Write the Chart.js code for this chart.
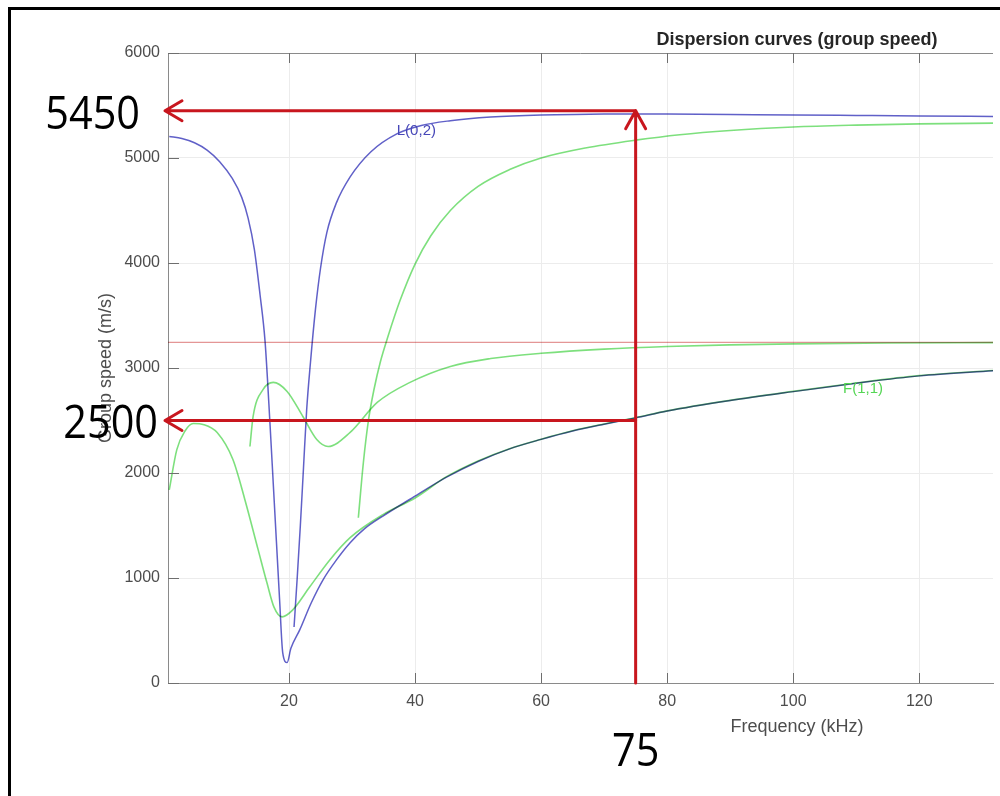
<!DOCTYPE html>
<html>
<head>
<meta charset="utf-8">
<script src="https://cdn.jsdelivr.net/npm/chart.js@4.4.1/dist/chart.umd.min.js"></script>
<style>
  html, body { margin: 0; padding: 0; background: #fff; }
  canvas { display: block; }
</style>
</head>
<body>
<canvas id="dispChart" width="1000" height="796"></canvas>
<script>
// axis ticks
const xTicks = [20, 40, 60, 80, 100, 120];
const yTicks = [0, 1000, 2000, 3000, 4000, 5000, 6000];

// L(0,1) branch: left descent and lower branch (blue)
const blueAFreq  = [1, 3, 5, 7, 9, 11, 12.5, 13.5, 14.5, 15.4, 16.2, 17, 17.5, 18, 18.5, 19, 19.7, 20.3, 21.7, 23.5, 25.4, 27.5, 29.7, 32, 34.9, 39.2, 45, 50, 55, 60, 65, 70, 75, 80, 90, 100, 110, 120, 132];
const blueASpeed = [5205, 5185, 5145, 5075, 4965, 4805, 4625, 4430, 4130, 3700, 3254, 2450, 1900, 1350, 800, 290, 195, 330, 506, 760, 983, 1170, 1336, 1470, 1590, 1750, 1960, 2110, 2230, 2320, 2400, 2465, 2525, 2590, 2690, 2775, 2855, 2925, 2975];

// L(0,2) (blue)
const blueBFreq  = [20.8, 21.3, 21.8, 22.3, 22.8, 23.4, 24.2, 25, 26, 27.5, 29.7, 33, 37.1, 41, 45.6, 52, 60, 70, 75, 80, 90, 100, 110, 120, 132];
const blueBSpeed = [534, 1000, 1500, 2050, 2600, 3050, 3560, 3950, 4290, 4570, 4820, 5060, 5230, 5310, 5355, 5390, 5410, 5418, 5420, 5418, 5414, 5410, 5405, 5400, 5395];

// F(1,1) (green)
const greenAFreq  = [1, 2.2, 3.5, 4.8, 6.5, 8.6, 11.1, 13, 15.1, 16.5, 17.6, 18.9, 20.6, 23.3, 26.5, 29.7, 34.9, 40, 45, 50, 55, 60, 65, 70, 75, 80, 90, 100, 110, 120, 132];
const greenASpeed = [1840, 2223, 2400, 2471, 2460, 2385, 2128, 1746, 1270, 954, 725, 630, 697, 916, 1174, 1384, 1603, 1762, 1965, 2115, 2232, 2322, 2402, 2467, 2527, 2592, 2692, 2777, 2857, 2927, 2977];

// F(1,2) (green)
const greenBFreq  = [13.8, 14.3, 15.9, 17.5, 19.7, 22.2, 24.4, 26.2, 29.7, 34, 39.2, 45.6, 52, 60, 70, 80, 90, 100, 115, 132];
const greenBSpeed = [2252, 2538, 2796, 2863, 2777, 2538, 2319, 2252, 2386, 2672, 2863, 3015, 3090, 3140, 3180, 3205, 3220, 3230, 3238, 3242];

// F(1,3) (green)
const greenCFreq  = [31, 31.8, 32.6, 33.5, 34.5, 35.7, 37.6, 40, 42.5, 45.6, 50, 55, 60, 67, 75, 82, 90, 100, 110, 120, 132];
const greenCSpeed = [1574, 2100, 2500, 2800, 3060, 3300, 3640, 3990, 4260, 4500, 4730, 4890, 5000, 5095, 5170, 5222, 5262, 5295, 5313, 5325, 5332];

// T(0,1) (red)
const redFreq  = [0.8, 132];
const redSpeed = [3244, 3244];

// hand-drawn marks
const markFreq = 75;
const markSpeeds = [5450, 2500];

const curveLabels = [
    { text: 'L(0,2)', x: 37.1, y: 5257, color: '#4747b8' },
    { text: 'F(1,1)', x: 107.9, y: 2805, color: '#55d655' }
];

function toPoints(xs, ys) {
    return xs.map((x, i) => ({ x: x, y: ys[i] }));
}

function lineSet(xs, ys, color, width) {
    return {
        data: toPoints(xs, ys),
        borderColor: color,
        borderWidth: width,
        pointRadius: 0,
        showLine: true,
        fill: false,
        cubicInterpolationMode: 'monotone'
    };
}

const BLUE = 'rgb(96, 96, 200)';
const GREEN = 'rgb(125, 224, 125)';
const RED = 'rgb(228, 150, 150)';
const MARK = '#c8161e';
const TXT = '#4d4d4d';
const SANS = '"Liberation Sans", Arial, Helvetica, sans-serif';

const overlayPlugin = {
    id: 'overlay',
    beforeDraw(chart) {
        const ctx = chart.ctx;
        ctx.save();
        ctx.fillStyle = '#fff';
        ctx.fillRect(0, 0, chart.width, chart.height);
        ctx.fillStyle = '#000';
        ctx.fillRect(8, 7, chart.width - 8, 3);
        ctx.fillRect(8, 7, 3, chart.height - 7);
        ctx.restore();
    },
    beforeDatasetsDraw(chart) {
        chart.ctx.save();
        chart.ctx.globalCompositeOperation = 'multiply';
    },
    afterDatasetsDraw(chart) {
        chart.ctx.restore();
    },
    afterDraw(chart) {
        const ctx = chart.ctx;
        const a = chart.chartArea;
        const xs = chart.scales.x;
        const ys = chart.scales.y;
        ctx.save();

        // top box line
        ctx.strokeStyle = '#8a8a8a';
        ctx.lineWidth = 1;
        ctx.beginPath();
        ctx.moveTo(a.left, a.top + 0.5);
        ctx.lineTo(a.right, a.top + 0.5);
        ctx.stroke();

        // inner tick marks
        ctx.strokeStyle = '#6e6e6e';
        ctx.beginPath();
        xTicks.forEach(v => {
            const px = Math.round(xs.getPixelForValue(v)) + 0.5;
            ctx.moveTo(px, a.bottom);
            ctx.lineTo(px, a.bottom - 10);
            ctx.moveTo(px, a.top);
            ctx.lineTo(px, a.top + 10);
        });
        yTicks.forEach(v => {
            const py = Math.round(ys.getPixelForValue(v)) + 0.5;
            ctx.moveTo(a.left, py);
            ctx.lineTo(a.left + 11, py);
        });
        ctx.stroke();

        // titles
        ctx.fillStyle = '#262626';
        ctx.font = 'bold 18px ' + SANS;
        ctx.textAlign = 'center';
        ctx.textBaseline = 'middle';
        ctx.fillText('Dispersion curves (group speed)', a.left + 629, 40);

        ctx.fillStyle = TXT;
        ctx.font = '18px ' + SANS;
        ctx.fillText('Frequency (kHz)', a.left + 629, 727);

        ctx.save();
        ctx.translate(106, (a.top + a.bottom) / 2);
        ctx.rotate(-Math.PI / 2);
        ctx.fillText('Group speed (m/s)', 0, 0);
        ctx.restore();

        // curve labels
        ctx.font = '15px ' + SANS;
        ctx.textAlign = 'left';
        curveLabels.forEach(l => {
            ctx.fillStyle = l.color;
            ctx.fillText(l.text, xs.getPixelForValue(l.x), ys.getPixelForValue(l.y));
        });

        // red marks
        const mx = xs.getPixelForValue(markFreq);
        const tipX = a.left - 3;
        ctx.strokeStyle = MARK;
        ctx.lineWidth = 3;
        ctx.lineCap = 'round';
        ctx.lineJoin = 'round';
        markSpeeds.forEach(s => {
            const py = ys.getPixelForValue(s);
            ctx.beginPath();
            ctx.moveTo(mx, py);
            ctx.lineTo(tipX, py);
            ctx.moveTo(tipX + 17, py - 10);
            ctx.lineTo(tipX, py);
            ctx.lineTo(tipX + 17, py + 10);
            ctx.stroke();
        });
        const topY = ys.getPixelForValue(markSpeeds[0]);
        ctx.beginPath();
        ctx.moveTo(mx, a.bottom);
        ctx.lineTo(mx, topY);
        ctx.moveTo(mx - 10, topY + 18);
        ctx.lineTo(mx, topY);
        ctx.lineTo(mx + 10, topY + 18);
        ctx.stroke();

        // big numbers
        ctx.fillStyle = '#000';
        ctx.font = '46px "Open Sans", "Noto Sans", sans-serif';
        ctx.textBaseline = 'alphabetic';
        function bigText(t, x, y, align) {
            ctx.save();
            ctx.translate(x, y);
            ctx.scale(0.9, 1);
            ctx.textAlign = align;
            ctx.fillText(t, 0, 0);
            ctx.restore();
        }
        bigText(String(markSpeeds[0]), tipX - 25, ys.getPixelForValue(markSpeeds[0]) + 18, 'right');
        bigText(String(markSpeeds[1]), tipX - 7, ys.getPixelForValue(markSpeeds[1]) + 17, 'right');
        bigText(String(markFreq), mx, a.bottom + 83, 'center');

        ctx.restore();
    }
};

new Chart(document.getElementById('dispChart').getContext('2d'), {
    type: 'scatter',
    data: {
        datasets: [
            lineSet(redFreq, redSpeed, RED, 1.3),
            lineSet(greenCFreq, greenCSpeed, GREEN, 1.6),
            lineSet(greenBFreq, greenBSpeed, GREEN, 1.6),
            lineSet(greenAFreq, greenASpeed, GREEN, 1.6),
            lineSet(blueBFreq, blueBSpeed, BLUE, 1.5),
            lineSet(blueAFreq, blueASpeed, BLUE, 1.5)
        ]
    },
    options: {
        responsive: false,
        animation: false,
        layout: { padding: { top: 53, right: 7, left: 0, bottom: 0 } },
        plugins: {
            legend: { display: false },
            tooltip: { enabled: false },
            title: { display: false }
        },
        scales: {
            x: {
                type: 'linear',
                min: 0.8,
                max: 131.7,
                afterFit(scale) { scale.height = 113; },
                afterBuildTicks(scale) { scale.ticks = xTicks.map(v => ({ value: v })); },
                grid: { color: '#ececec', drawTicks: false },
                border: { color: '#8a8a8a' },
                ticks: { padding: 9, color: TXT, font: { family: SANS, size: 16 }, callback: v => String(v) }
            },
            y: {
                min: 0,
                max: 6000,
                afterFit(scale) { scale.width = 168; },
                afterBuildTicks(scale) { scale.ticks = yTicks.map(v => ({ value: v })); },
                grid: { color: '#ececec', drawTicks: false },
                border: { color: '#8a8a8a' },
                ticks: { padding: 8, color: TXT, font: { family: SANS, size: 16 }, callback: v => String(v) }
            }
        }
    },
    plugins: [overlayPlugin]
});
</script>
</body>
</html>
